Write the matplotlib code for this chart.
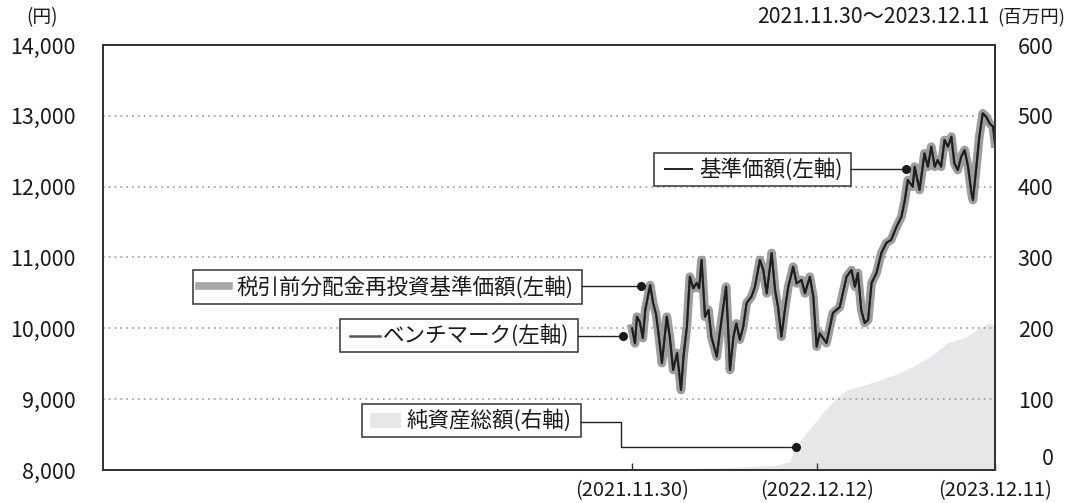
import pandas as pd
import matplotlib.pyplot as plt
from matplotlib.patches import Rectangle
from matplotlib.lines import Line2D

plt.rcParams['font.family'] = ['Noto Sans CJK JP', 'DejaVu Sans']

start = pd.Timestamp('2021-11-30')
mid = pd.Timestamp('2022-12-12')
end = pd.Timestamp('2023-12-11')

# days since 2021.11.30 / NAV in yen
nav_days = [0, 6, 10, 16, 22, 27, 37, 43, 49, 54, 61, 71, 77, 84, 92, 100, 105,
            112, 118, 125, 132, 137, 142, 149, 156, 162, 173, 179, 192, 196, 200,
            207, 213, 220, 227, 234, 244, 251, 261, 268, 275, 285, 292, 298, 305,
            312, 319, 329, 336, 346, 353, 363, 370, 377, 383, 397, 410, 424, 438,
            448, 455, 461, 468, 475, 482, 489, 499, 509, 519, 529, 540, 550, 557,
            563, 573, 577, 587, 597, 604, 611, 618, 624, 631, 638, 645, 652, 658,
            665, 672, 679, 686, 693, 696, 703, 709, 716, 723, 730, 737, 741]
nav = [10000, 9788, 10164, 10090, 9863, 10259, 10612, 10357, 10200, 9934, 9510,
       10164, 9882, 9412, 9651, 9129, 9600, 10023, 10729, 10565, 10640, 10565,
       10965, 10164, 10260, 9882, 9600, 9930, 10588, 10023, 9412, 9882, 10070,
       9840, 10023, 10357, 10450, 10588, 10965, 10823, 10494, 11063, 10541,
       10306, 9882, 10259, 10588, 10870, 10635, 10682, 10494, 10729, 10447,
       9741, 9930, 9793, 10216, 10300, 10729, 10823, 10588, 10781, 10260, 10075,
       10120, 10640, 10781, 11063, 11205, 11250, 11435, 11576, 11812, 12094,
       12000, 12282, 11953, 12470, 12282, 12564, 12282, 12376, 12282, 12659,
       12564, 12706, 12329, 12235, 12423, 12517, 12282, 11906, 11812, 12282,
       12706, 13035, 12988, 12894, 12847, 12612]
# no distributions paid and the benchmark overlaps the NAV on the chart
reinvest_nav = nav
benchmark = nav

# days since 2021.11.30 / net assets in million yen
asset_days = [0, 57, 118, 220, 295, 322, 336, 343, 363, 389, 414, 438, 465, 506,
              546, 573, 614, 642, 682, 709, 730, 741]
net_assets = [1, 2, 2, 4, 7, 12, 33, 42, 58, 80, 100, 113, 118, 127, 137, 146,
              162, 179, 188, 200, 208, 203]

tick_dates = [start, mid, end]
tick_labels = ['(2021.11.30)', '(2022.12.12)', '(2023.12.11)']

W, H = 1070, 503
TXT = '#1a1a1a'


def fx(x):
    return x / W


def fy(y):
    return 1 - y / H


fig = plt.figure(figsize=(W / 100, H / 100), dpi=100)
ax = fig.add_axes([fx(103), fy(470), (995 - 103) / W, (470 - 45) / H])
ax2 = ax.twinx()
ax.set_zorder(ax2.get_zorder() + 1)
ax.patch.set_visible(False)

ax2.fill_between(asset_days, net_assets, 0, color='#e6e7e8', lw=0)
ax2.set_ylim(0, 600)
ax2.set_yticks(range(0, 601, 100))

ax.plot(nav_days, reinvest_nav, color='#9d9d9d', lw=6.3, solid_joinstyle='round')
ax.plot(nav_days, benchmark, color='#555555', lw=1.5)
ax.plot(nav_days, nav, color='#1e1e1e', lw=1.5)
ax.set_ylim(8000, 14000)
ax.set_yticks(range(8000, 14001, 1000))
ax.set_yticklabels([f'{v:,}' for v in range(8000, 14001, 1000)])
ax.set_xlim(-1080, (end - start).days)
ax.set_xticks([(d - start).days for d in tick_dates])
ax.set_xticklabels(tick_labels)
ax.grid(axis='y', color='#999999', ls=(0, (1, 2.5)), lw=1.2)
ax.yaxis.get_gridlines()[0].set_visible(False)
ax.yaxis.get_gridlines()[-1].set_visible(False)

for a in (ax, ax2):
    for s in a.spines.values():
        s.set_color('#333333')
        s.set_linewidth(1.3)
ax.tick_params(axis='x', direction='in', length=5, width=1, color='#333333',
               labelsize=14.5, pad=7, labelcolor=TXT)
ax.tick_params(axis='y', length=0, labelsize=15.5, pad=20, labelcolor=TXT)
ax2.tick_params(axis='y', length=0, labelsize=15.5, pad=42, labelcolor=TXT)
for lab in ax2.get_yticklabels():
    lab.set_ha('right')
ax2.get_yticklabels()[0].set_va('bottom')

fig.text(fx(42), fy(18), '(円)', ha='center', va='center', fontsize=13.5, color=TXT)
fig.text(fx(990), fy(17), '2021.11.30～2023.12.11', ha='right', va='center',
         fontsize=15.3, color=TXT)
fig.text(fx(1065), fy(17), '(百万円)', ha='right', va='center', fontsize=13.3,
         color=TXT)


def label_box(x0, y0, x1, y1, text, tx, swatch):
    fig.patches.append(Rectangle((fx(x0), fy(y1)), fx(x1 - x0), (y1 - y0) / H,
                                 transform=fig.transFigure, fc='white',
                                 ec='#333333', lw=1.1, zorder=5))
    fig.add_artist(swatch)
    fig.text(fx(tx), fy((y0 + y1) / 2), text, ha='left', va='center',
             fontsize=15.5, color=TXT, zorder=7)


def connector(xs, ys):
    fig.add_artist(Line2D([fx(x) for x in xs], [fy(y) for y in ys],
                          transform=fig.transFigure, color='#222222', lw=1.0,
                          zorder=6))
    fig.add_artist(Line2D([fx(xs[-1])], [fy(ys[-1])], transform=fig.transFigure,
                          marker='o', ms=5.5, color=TXT, zorder=8))


# 基準価額
label_box(654, 153, 851, 186, '基準価額(左軸)', 699,
          Line2D([fx(665), fx(692)], [fy(169.5)] * 2, transform=fig.transFigure,
                 color='#222222', lw=1.4, zorder=7))
connector([851, 906], [169.5, 169.5])

# 税引前分配金再投資基準価額
label_box(193, 270, 582, 304, '税引前分配金再投資基準価額(左軸)', 236,
          Line2D([fx(199), fx(229)], [fy(286)] * 2, transform=fig.transFigure,
                 color='#a8a8a8', lw=5.5, zorder=7))
connector([582, 641], [286, 286])

# ベンチマーク
label_box(340, 319, 578, 352, 'ベンチマーク(左軸)', 383,
          Line2D([fx(350), fx(380)], [fy(336)] * 2, transform=fig.transFigure,
                 color='#555555', lw=1.8, zorder=7))
connector([578, 623], [336, 336])

# 純資産総額
label_box(362, 404, 581, 437, '純資産総額(右軸)', 406,
          Rectangle((fx(370), fy(428)), fx(31), 15 / H, transform=fig.transFigure,
                    fc='#e6e7e8', lw=0, zorder=7))
connector([581, 620.5, 620.5, 796], [421.5, 421.5, 447, 447])

fig.savefig('out.png', dpi=100)
